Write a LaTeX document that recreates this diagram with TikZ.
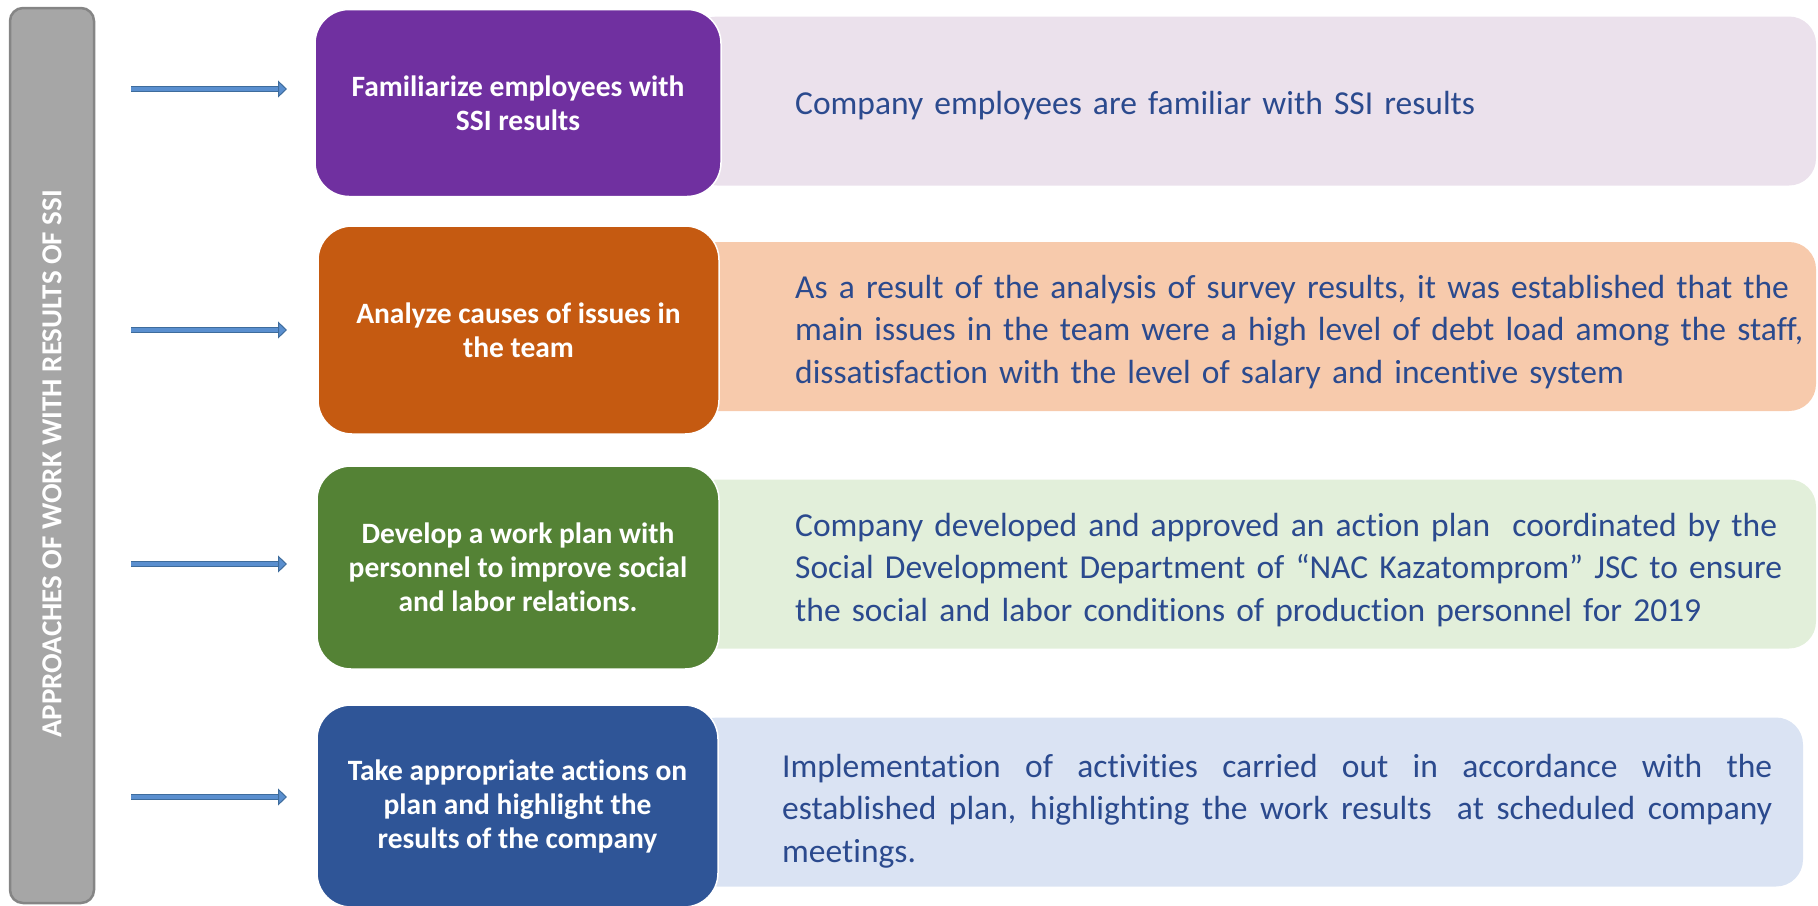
\documentclass[tikz,border=0pt]{standalone}
\usepackage{fontspec}
\setmainfont{Carlito}[Ligatures=NoCommon]
\usepackage{tikz}
\usetikzlibrary{arrows.meta,positioning}
\definecolor{barGray}{HTML}{A6A6A6}
\definecolor{barEdge}{HTML}{858585}
\definecolor{arrowEdge}{HTML}{3E6C9C}
\definecolor{arrowFill}{HTML}{5A8FCF}
\definecolor{stepPurple}{HTML}{7030A0}
\definecolor{stepOrange}{HTML}{C55A11}
\definecolor{stepGreen}{HTML}{548235}
\definecolor{stepBlue}{HTML}{2F5597}
\definecolor{resPurple}{HTML}{EBE1EC}
\definecolor{resOrange}{HTML}{F7CAAC}
\definecolor{resGreen}{HTML}{E2EFDA}
\definecolor{resBlue}{HTML}{DAE3F3}
\definecolor{resText}{HTML}{2B4A8E}
\hyphenpenalty=10000

\begin{document}
\begin{tikzpicture}[x=1pt,y=-1pt,
  bar/.style={rounded corners=13pt,fill=barGray,draw=barEdge,line width=2.5pt,
    minimum width=84pt,minimum height=895pt,inner sep=0pt},
  bartext/.style={rotate=90,inner sep=0pt,text=white,
    font=\fontsize{29}{34}\selectfont\bfseries},
  stepbox/.style={rounded corners=34pt,draw=white,line width=1.5pt,inner sep=0pt,
    text=white,align=center,font=\fontsize{29.5}{34}\selectfont\bfseries},
  resbox/.style={rounded corners=27pt,inner sep=0pt,minimum height=169pt},
  restext/.style={anchor=west,inner sep=0pt,text=resText,align=left,
    text width=1020pt,font=\fontsize{33.5}{42.5}\selectfont},
  feed/.style={line width=6.5pt,draw=arrowEdge,
    -{Triangle[length=9pt,width=17pt,fill=arrowFill,line width=1pt]},
    postaction={draw=arrowFill,line width=3.2pt,shorten >=9pt,-}}]
  \clip (0,0) rectangle (1818,905);
  \useasboundingbox (0,0) rectangle (1818,905);

  % Result panels (behind the steps)
  \node[resbox,fill=resPurple,minimum width=1126pt] (res1) at (1253,101) {};
  \node[resbox,fill=resOrange,minimum width=1126pt] (res2) at (1253,326.5) {};
  \node[resbox,fill=resGreen,minimum width=1126pt] (res3) at (1253,564) {};
  \node[resbox,fill=resBlue,minimum width=1113pt] (res4) at (1246.5,802) {};

  % Steps
  \node[stepbox,fill=stepPurple,minimum width=406pt,minimum height=187pt] (step1) at (518,103)
    {Familiarize employees with\\SSI results};
  \node[stepbox,fill=stepOrange,minimum width=401pt,minimum height=208pt] (step2) at (518.5,330)
    {Analyze causes of issues in\\the team};
  \node[stepbox,fill=stepGreen,minimum width=402pt,minimum height=203pt] (step3) at (518,567.5)
    {Develop a work plan with\\personnel to improve social\\and labor relations.};
  \node[stepbox,fill=stepBlue,minimum width=401pt,minimum height=202pt] (step4) at (517.5,806)
    {Take appropriate actions on\\plan and highlight the\\results of the company};

  % Results text
  \node[restext] (txt1) at (795,106) {Company employees are familiar with SSI results};
  \node[restext] (txt2) at (795,332)
    {As a result of the analysis of survey results, it was established that the\\
     main issues in the team were a high level of debt load among the staff,\\
     dissatisfaction with the level of salary and incentive system};
  \node[restext] (txt3) at (795,570)
    {Company developed and approved an action plan~ coordinated by the\\
     Social Development Department of “NAC Kazatomprom” JSC to ensure\\
     the social and labor conditions of production personnel for 2019};
  \node[restext,align=justify,text width=990pt] (txt4) at (782,811)
    {Implementation of activities carried out in accordance with the\linebreak
     established plan, highlighting the work results~ at scheduled company\linebreak
     meetings.};

  % Side bar
  \node[bar] (approach) at (52,455.5) {};
  \node[bartext] (approachlabel) at (52,464) {APPROACHES OF WORK WITH RESULTS OF SSI};

  % Arrows
  \foreach \y [count=\i] in {89,330,564,797} {
    \coordinate (in\i) at (131,\y);
    \coordinate (out\i) at (287,\y);
    \draw[feed] (in\i) -- (out\i);
  }
\end{tikzpicture}
\end{document}
